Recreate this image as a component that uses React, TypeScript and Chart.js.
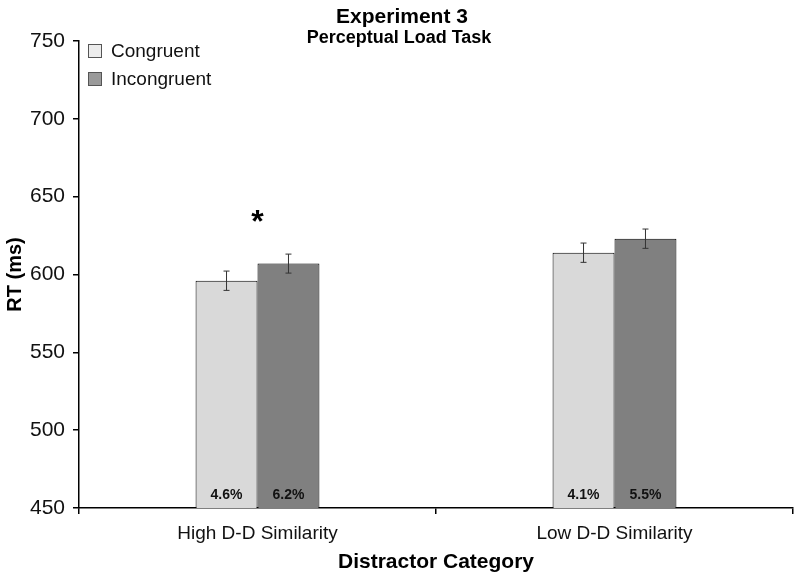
import React, { useEffect, useRef } from "react";
import { Chart, registerables } from "chart.js";

Chart.register(...registerables);

const categories = ["High D-D Similarity", "Low D-D Similarity"];
const seriesNames = ["Congruent", "Incongruent"];
const congruentRT = [596, 614];
const incongruentRT = [607, 623];
const congruentErr = [6.2, 6.2];
const incongruentErr = [6.1, 6.2];
const congruentErrRate = ["4.6%", "4.1%"];
const incongruentErrRate = ["6.2%", "5.5%"];
const significant = [true, false];
const yTicks = [450, 500, 550, 600, 650, 700, 750];
const titleText = "Experiment 3";
const subtitleText = "Perceptual Load Task";

const FONT = "'Liberation Sans', Arial, sans-serif";

const overlayPlugin = {
  id: "overlay",
  afterDatasetsDraw(chart: any) {
    const { ctx } = chart;
    const y = chart.scales.y;
    const errs = [congruentErr, incongruentErr];
    const rates = [congruentErrRate, incongruentErrRate];
    chart.data.datasets.forEach((ds: any, di: number) => {
      const meta = chart.getDatasetMeta(di);
      meta.data.forEach((bar: any, i: number) => {
        const v = ds.data[i];
        const e = errs[di][i];
        const yTop = y.getPixelForValue(v + e);
        const yBot = y.getPixelForValue(v - e);
        ctx.save();
        ctx.strokeStyle = "#333";
        ctx.lineWidth = 1;
        ctx.beginPath();
        ctx.moveTo(bar.x, yTop);
        ctx.lineTo(bar.x, yBot);
        ctx.moveTo(bar.x - 3, yTop);
        ctx.lineTo(bar.x + 3, yTop);
        ctx.moveTo(bar.x - 3, yBot);
        ctx.lineTo(bar.x + 3, yBot);
        ctx.stroke();
        ctx.fillStyle = "#111";
        ctx.font = `bold 14px ${FONT}`;
        ctx.textAlign = "center";
        ctx.textBaseline = "middle";
        ctx.fillText(rates[di][i], bar.x, chart.chartArea.bottom - 13);
        ctx.restore();
      });
    });
    const m0 = chart.getDatasetMeta(0);
    const m1 = chart.getDatasetMeta(1);
    significant.forEach((s, i) => {
      if (!s) return;
      const cx = (m0.data[i].x + m1.data[i].x) / 2;
      const top = y.getPixelForValue(incongruentRT[i] + incongruentErr[i]);
      ctx.save();
      ctx.fillStyle = "#000";
      ctx.font = `bold 32px ${FONT}`;
      ctx.textAlign = "center";
      ctx.textBaseline = "alphabetic";
      ctx.fillText("*", cx, top - 22);
      ctx.restore();
    });
  },
  afterDraw(chart: any) {
    const { ctx } = chart;
    ctx.save();
    ctx.fillStyle = "#000";
    ctx.textAlign = "center";
    ctx.textBaseline = "alphabetic";
    ctx.font = `bold 21px ${FONT}`;
    ctx.fillText(titleText, 402, 23);
    ctx.font = `bold 18px ${FONT}`;
    ctx.fillText(subtitleText, 399, 43);
    const swatch = ["#ececec", "#9a9a9a"];
    seriesNames.forEach((name, i) => {
      const cy = 51 + i * 28;
      ctx.fillStyle = swatch[i];
      ctx.fillRect(88, cy - 7, 14, 14);
      ctx.strokeStyle = "#555";
      ctx.lineWidth = 1;
      ctx.strokeRect(88.5, cy - 6.5, 13, 13);
      ctx.fillStyle = "#111";
      ctx.font = `19px ${FONT}`;
      ctx.textAlign = "left";
      ctx.textBaseline = "middle";
      ctx.fillText(name, 111, cy + 1);
    });
    ctx.restore();
  },
};

export default function App() {
  const ref = useRef<HTMLCanvasElement>(null);
  useEffect(() => {
    document.body.style.margin = "0";
    const chart = new Chart(ref.current!, {
      type: "bar",
      data: {
        labels: categories,
        datasets: [
          {
            label: seriesNames[0],
            data: congruentRT,
            backgroundColor: "#d9d9d9",
            borderColor: "#000",
            borderWidth: 1,
            categoryPercentage: 0.347,
            barPercentage: 1,
          },
          {
            label: seriesNames[1],
            data: incongruentRT,
            backgroundColor: "#808080",
            borderColor: "#000",
            borderWidth: 1,
            categoryPercentage: 0.347,
            barPercentage: 1,
          },
        ],
      },
      options: {
        animation: false,
        responsive: false,
        devicePixelRatio: 1,
        layout: { padding: { top: 41, right: 7, left: 0, bottom: 0 } },
        plugins: { legend: { display: false }, tooltip: { enabled: false }, title: { display: false } },
        scales: {
          x: {
            afterFit: (s: any) => { s.height = 71; },
            border: { color: "#000", width: 1.5 },
            grid: { display: true, drawOnChartArea: false, drawTicks: true, tickLength: 6, color: "#000", lineWidth: 1.5 },
            ticks: { color: "#111", font: { family: FONT, size: 19 }, padding: 8 },
            title: {
              display: true,
              text: "Distractor Category",
              color: "#000",
              font: { family: FONT, size: 21, weight: "bold" },
              padding: { top: 0, bottom: 4 },
            },
          },
          y: {
            min: 450,
            max: 750,
            afterFit: (s: any) => { s.width = 79; },
            afterBuildTicks: (s: any) => { s.ticks = yTicks.map((v) => ({ value: v })); },
            border: { color: "#000", width: 1.5 },
            grid: { display: true, drawOnChartArea: false, drawTicks: true, tickLength: 6, color: "#000", lineWidth: 1.5 },
            ticks: { color: "#111", font: { family: FONT, size: 21 }, padding: 8 },
            title: {
              display: true,
              text: "RT (ms)",
              color: "#000",
              font: { family: FONT, size: 20, weight: "bold" },
              padding: { top: 3, bottom: 0 },
            },
          },
        },
      },
      plugins: [overlayPlugin],
    });
    return () => chart.destroy();
  }, []);
  return (
    <div style={{ width: 800, height: 579 }}>
      <canvas ref={ref} width={800} height={579} style={{ display: "block" }} />
    </div>
  );
}
